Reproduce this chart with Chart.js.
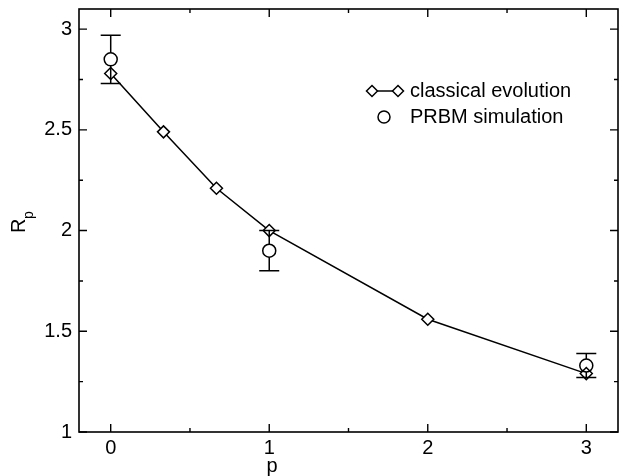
<!DOCTYPE html>
<html>
<head>
<meta charset="utf-8">
<script src="https://cdn.jsdelivr.net/npm/chart.js@4.4.0/dist/chart.umd.min.js"></script>
<style>
  html, body { margin: 0; padding: 0; background: #fff; }
</style>
</head>
<body>
<canvas id="rp" width="626" height="476"></canvas>
<script>
// classical evolution (diamonds joined by a line)
var pClassical = [0, 0.333, 0.667, 1, 2, 3];
var rClassical = [2.78, 2.49, 2.21, 2.00, 1.56, 1.29];

// PRBM simulation (circles with error bars)
var pSim = [0, 1, 3];
var rSim = [2.85, 1.90, 1.33];
var rSimLow = [2.73, 1.80, 1.27];
var rSimHigh = [2.97, 2.00, 1.39];

var FONT = "Liberation Sans, Arial, sans-serif";

function diamond(ctx, x, y, r) {
  ctx.beginPath();
  ctx.moveTo(x, y - r);
  ctx.lineTo(x + r, y);
  ctx.lineTo(x, y + r);
  ctx.lineTo(x - r, y);
  ctx.closePath();
  ctx.fillStyle = "#fff";
  ctx.fill();
  ctx.stroke();
}

var framePlugin = {
  id: "frame",
  beforeDatasetsDraw: function (chart) {
    var ctx = chart.ctx, a = chart.chartArea;
    var xs = chart.scales.x, ys = chart.scales.y;
    ctx.save();
    ctx.strokeStyle = "#000";
    ctx.lineWidth = 1.6;
    ctx.strokeRect(a.left, a.top, a.right - a.left, a.bottom - a.top);

    // inward ticks, majors from the scale, minors halfway between
    ctx.lineWidth = 1.4;
    function xTick(v, len) {
      var px = xs.getPixelForValue(v);
      ctx.beginPath();
      ctx.moveTo(px, a.bottom); ctx.lineTo(px, a.bottom - len);
      ctx.moveTo(px, a.top); ctx.lineTo(px, a.top + len);
      ctx.stroke();
    }
    function yTick(v, len) {
      var py = ys.getPixelForValue(v);
      ctx.beginPath();
      ctx.moveTo(a.left, py); ctx.lineTo(a.left + len, py);
      ctx.moveTo(a.right, py); ctx.lineTo(a.right - len, py);
      ctx.stroke();
    }
    xs.ticks.forEach(function (t, i) {
      xTick(t.value, 8);
      if (i < xs.ticks.length - 1) xTick((t.value + xs.ticks[i + 1].value) / 2, 4);
    });
    ys.ticks.forEach(function (t, i) {
      yTick(t.value, 8);
      if (i < ys.ticks.length - 1) yTick((t.value + ys.ticks[i + 1].value) / 2, 4);
    });
    ctx.restore();
  },
  afterDatasetsDraw: function (chart) {
    var ctx = chart.ctx;
    var xs = chart.scales.x, ys = chart.scales.y;
    var r = 6.5, cap = 10;
    ctx.save();
    ctx.strokeStyle = "#000";
    ctx.lineWidth = 1.5;
    for (var i = 0; i < pSim.length; i++) {
      var px = xs.getPixelForValue(pSim[i]);
      var pc = ys.getPixelForValue(rSim[i]);
      var ph = ys.getPixelForValue(rSimHigh[i]);
      var pl = ys.getPixelForValue(rSimLow[i]);
      ctx.beginPath();
      ctx.moveTo(px, ph); ctx.lineTo(px, pc - r);
      ctx.moveTo(px, pc + r); ctx.lineTo(px, pl);
      ctx.moveTo(px - cap, ph); ctx.lineTo(px + cap, ph);
      ctx.moveTo(px - cap, pl); ctx.lineTo(px + cap, pl);
      ctx.stroke();
    }
    ctx.restore();
  },
  afterDraw: function (chart) {
    var ctx = chart.ctx;
    ctx.save();
    ctx.strokeStyle = "#000";
    ctx.fillStyle = "#000";
    ctx.lineWidth = 1.5;

    // legend
    ctx.beginPath();
    ctx.moveTo(372, 91); ctx.lineTo(398, 91);
    ctx.stroke();
    diamond(ctx, 372, 91, 5.5);
    diamond(ctx, 398, 91, 5.5);
    ctx.beginPath();
    ctx.arc(384, 117, 6, 0, Math.PI * 2);
    ctx.stroke();
    ctx.fillStyle = "#000";
    ctx.font = "20px " + FONT;
    ctx.textAlign = "left";
    ctx.textBaseline = "middle";
    ctx.fillText("classical evolution", 410, 91);
    ctx.fillText("PRBM simulation", 410, 117);

    // axis titles
    ctx.textAlign = "center";
    ctx.fillText("p", 272, 466);

    ctx.translate(25, 233);
    ctx.rotate(-Math.PI / 2);
    ctx.textAlign = "left";
    ctx.textBaseline = "alphabetic";
    ctx.font = "20px " + FONT;
    ctx.fillText("R", 0, 0);
    ctx.font = "14px " + FONT;
    ctx.fillText("p", 14, 8);
    ctx.restore();
  }
};

function plainTick(v) {
  return String(Math.round(v * 100) / 100);
}

new Chart(document.getElementById("rp"), {
  type: "scatter",
  data: {
    datasets: [
      {
        label: "classical evolution",
        data: pClassical.map(function (p, i) { return { x: p, y: rClassical[i] }; }),
        showLine: true,
        tension: 0,
        borderColor: "#000",
        borderWidth: 1.5,
        pointStyle: "rectRot",
        pointRadius: 6,
        pointBackgroundColor: "#fff",
        pointBorderColor: "#000",
        pointBorderWidth: 1.5,
        order: 2
      },
      {
        label: "PRBM simulation",
        data: pSim.map(function (p, i) { return { x: p, y: rSim[i] }; }),
        showLine: false,
        pointStyle: "circle",
        pointRadius: 6.5,
        pointBackgroundColor: "rgba(0,0,0,0)",
        pointBorderColor: "#000",
        pointBorderWidth: 1.5,
        order: 1
      }
    ]
  },
  options: {
    responsive: false,
    animation: false,
    devicePixelRatio: 1,
    layout: { padding: { top: 9, right: 1, left: 0, bottom: 0 } },
    plugins: {
      legend: { display: false },
      tooltip: { enabled: false }
    },
    scales: {
      x: {
        type: "linear",
        min: -0.2,
        max: 3.2,
        grid: { display: false },
        border: { display: false },
        ticks: {
          stepSize: 1,
          includeBounds: false,
          color: "#000",
          padding: -4,
          font: { family: FONT, size: 20 },
          callback: plainTick
        },
        afterFit: function (s) { s.height = 44; s.paddingLeft = 0; s.paddingRight = 0; }
      },
      y: {
        min: 1,
        max: 3.1,
        grid: { display: false },
        border: { display: false },
        ticks: {
          stepSize: 0.5,
          includeBounds: false,
          color: "#000",
          padding: -1,
          font: { family: FONT, size: 20 },
          callback: plainTick
        },
        afterFit: function (s) { s.width = 79; s.paddingTop = 0; s.paddingBottom = 0; }
      }
    }
  },
  plugins: [framePlugin]
});
</script>
</body>
</html>
